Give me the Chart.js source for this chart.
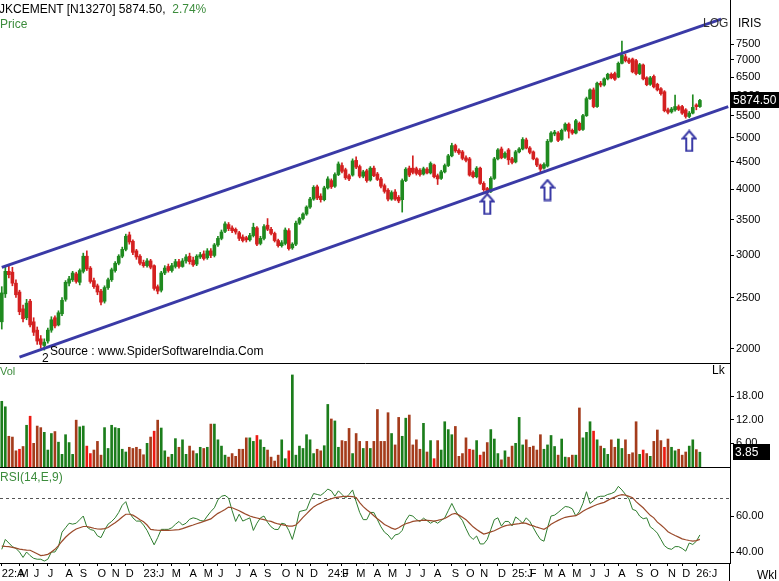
<!DOCTYPE html>
<html><head><meta charset="utf-8">
<script src="https://cdn.jsdelivr.net/npm/chart.js@4.4.1/dist/chart.umd.min.js"></script>
<style>
html,body{margin:0;padding:0;background:#fff}
body{width:779px;height:581px;overflow:hidden;position:relative;font-family:"Liberation Sans",Arial,sans-serif}
.pane{position:absolute;left:0;width:779px}
.t{position:absolute;white-space:nowrap;font-size:12px;line-height:12px;color:#000}
.g{color:#3c8c3c}
</style></head><body>
<div class="pane" style="top:0;height:364px"><canvas id="cp"></canvas></div>
<div class="pane" style="top:364px;height:104px"><canvas id="cv"></canvas></div>
<div class="pane" style="top:468px;height:113px"><canvas id="cr"></canvas></div>
<div class="t" style="left:-1px;top:3px">JKCEMENT [N13270] 5874.50,&nbsp; <span class="g">2.74%</span></div>
<div class="t g" style="left:0;top:18px">Price</div>
<div class="t" style="left:703px;top:17px;color:#333">LOG</div>
<div class="t" style="left:738px;top:17px">IRIS</div>
<div class="t" style="left:50px;top:345px">Source : www.SpiderSoftwareIndia.Com</div>
<div class="t" style="left:42px;top:352px">2</div>
<div class="t g" style="left:0;top:365px;font-size:11px">Vol</div>
<div class="t" style="left:712px;top:364px">Lk</div>
<div class="t g" style="left:0;top:471px">RSI(14,E,9)</div>
<div class="t" style="left:757px;top:569px">Wkl</div>
<script>
// ---------------- DATA (weekly, from 1 Apr 2022) ----------------
const opens=[2250,2540,2800,2790,2660,2560,2380,2290,2460,2250,2170,2090,2030,2070,2170,2290,2220,2330,2480,2660,
2700,2770,2670,2800,2990,2840,2690,2630,2570,2460,2610,2700,2810,2900,2990,3080,3280,3190,3060,2990,
2910,2870,2930,2870,2620,2580,2780,2860,2810,2860,2920,2860,2930,2990,2940,2890,2980,3020,2970,3060,
3000,3140,3230,3330,3430,3380,3360,3310,3250,3240,3210,3270,3380,3160,3230,3420,3360,3300,3200,3130,
3160,3340,3100,3150,3450,3520,3590,3700,3830,4040,3880,3820,4020,4150,4050,4260,4430,4350,4240,4250,
4530,4410,4230,4330,4160,4380,4270,4180,4060,3980,3830,3950,3860,3820,4150,4380,4380,4370,4340,4270,
4360,4290,4440,4240,4190,4310,4430,4620,4830,4730,4700,4580,4560,4300,4220,4380,4100,4010,3960,4190,
4560,4760,4590,4740,4560,4500,4700,4760,4950,4780,4700,4560,4440,4380,4420,4920,5080,5100,4960,5170,
5300,5160,5100,5320,5180,5500,5920,6150,5720,6330,6280,6450,6580,6600,6500,6900,7100,7000,7030,6980,
6600,6850,6480,6300,6520,6300,6180,6100,5640,5590,5640,5720,5720,5640,5480,5560,5760,5720];
const highs=[2620,2850,2870,2850,2700,2580,2420,2480,2480,2290,2200,2120,2090,2190,2300,2310,2360,2500,2690,2740,
2800,2790,2830,3030,3060,2860,2720,2650,2590,2630,2720,2840,2920,3010,3110,3290,3320,3210,3080,3010,
2940,2960,2950,2880,2640,2800,2870,2890,2900,2950,2950,2960,3010,3030,2980,3010,3040,3060,3090,3090,
3160,3260,3350,3470,3460,3410,3380,3330,3280,3260,3300,3450,3400,3260,3430,3520,3390,3320,3220,3200,
3380,3370,3170,3480,3540,3610,3720,3860,4060,4070,3920,4050,4220,4180,4290,4500,4480,4380,4270,4560,
4600,4440,4340,4360,4410,4420,4300,4210,4090,4010,3970,3990,3890,4180,4390,4420,4620,4400,4370,4400,
4390,4500,4460,4270,4340,4460,4650,4880,4860,4760,4730,4620,4590,4330,4410,4400,4130,4030,4220,4590,
4770,4800,4700,4770,4590,4730,4790,5000,4990,4810,4720,4580,4460,4480,4960,5130,5160,5130,5190,5330,
5330,5190,5410,5350,5530,5960,6180,6200,6360,6380,6480,6610,6620,6640,6940,7600,7180,7060,7060,7020,
6900,6880,6510,6520,6560,6330,6210,6130,5680,5700,6010,5760,5750,5670,5600,6020,5790,5900];
const lows=[2180,2500,2720,2630,2500,2320,2250,2270,2200,2120,2040,2010,1990,2050,2150,2190,2210,2310,2460,2630,
2680,2660,2640,2780,2810,2660,2600,2530,2420,2440,2590,2680,2790,2880,2970,3060,3150,3010,2950,2880,
2850,2850,2830,2580,2540,2560,2760,2790,2790,2840,2840,2850,2900,2890,2860,2870,2960,2940,2950,2970,
2980,3120,3210,3310,3340,3310,3290,3200,3180,3180,3190,3250,3130,3140,3210,3340,3280,3180,3110,3110,
3140,3070,3080,3130,3430,3500,3570,3680,3810,3820,3780,3800,4000,4010,4030,4240,4290,4170,4150,4230,
4370,4200,4200,4120,4140,4220,4150,4020,3930,3800,3810,3810,3770,3620,4130,4220,4270,4250,4230,4250,
4270,4270,4200,4080,4170,4290,4410,4600,4690,4650,4540,4500,4230,4200,4200,4080,3960,3880,3940,4170,
4540,4560,4570,4450,4460,4480,4680,4740,4760,4660,4540,4410,4300,4360,4400,4900,5040,4910,4940,5140,
4990,5070,5080,5150,5160,5480,5900,5690,5700,6230,6250,6420,6450,6410,6480,6880,6940,6890,6620,6560,
6570,6420,6260,6270,6200,6120,6010,5590,5540,5560,5610,5620,5530,5440,5450,5540,5640,5700];
const closes=[2550,2800,2760,2660,2530,2350,2280,2440,2220,2150,2070,2040,2060,2170,2270,2210,2340,2470,2670,2710,
2780,2680,2810,2990,2830,2680,2620,2560,2450,2610,2700,2820,2900,2990,3080,3260,3180,3040,2980,2900,
2870,2930,2850,2600,2570,2780,2840,2810,2870,2920,2860,2930,2980,2920,2880,2990,3010,2960,3060,3000,
3140,3230,3320,3440,3370,3340,3320,3230,3200,3210,3270,3390,3150,3230,3400,3360,3300,3200,3130,3170,
3350,3090,3150,3450,3520,3590,3700,3830,4030,3850,3820,4020,4180,4040,4260,4460,4320,4200,4180,4520,
4400,4230,4310,4150,4380,4240,4170,4050,3960,3830,3940,3830,3800,4150,4360,4250,4300,4280,4260,4370,
4290,4470,4220,4180,4310,4430,4620,4830,4720,4680,4570,4530,4250,4220,4380,4100,3990,3950,4190,4560,
4740,4580,4670,4540,4490,4700,4760,4960,4780,4690,4560,4440,4360,4450,4920,5100,5120,4940,5160,5300,
5140,5100,5380,5170,5500,5920,6150,5720,6330,6280,6450,6580,6480,6440,6900,7150,6980,6930,6650,6600,
6860,6450,6290,6480,6230,6150,6050,5620,5580,5660,5720,5650,5560,5480,5560,5700,5718,5874.5];
const volumes=[16.8,15.4,7.9,7.7,4.2,4.6,5.3,10.7,13,6.1,10.5,10.1,8.9,4.4,8.6,9.1,6.4,3.3,8.3,6.3,
3.3,12,10.3,10.5,5.4,3.5,4.4,6.6,3.1,10.1,4.8,10.7,10.1,9.9,4.6,3.9,5.1,4.8,5.1,4.6,
3.2,6.1,7.7,9.2,12,10,4.2,2.6,3.3,7.3,5.1,7,3.3,5.4,4.2,3.5,5.1,4.8,5.1,11,
11,7,5.4,3.1,2.6,3.5,2.8,4.6,4.6,7.5,7.5,6.6,8.1,7,5.1,4.4,2.6,1.6,3.1,7,
2.2,4.2,23.5,3.1,5.4,4.8,8.3,7,3.5,4.6,4.2,5.5,16,12.3,11.8,5.1,6.8,6.6,9.9,3.5,
8.6,6.6,4.8,6.6,4.8,6.6,14.7,6.6,6.6,13.9,8.6,5.7,12.7,7.9,12.5,13.3,5.7,7,4.6,11.2,
3.9,6.8,2.2,6.8,4.4,11.6,9.6,8.3,10.4,2.8,3.5,7.5,4.6,4.4,6.8,3.1,3.9,6.3,9.6,7.2,
3.5,1.9,4.2,2.6,5.4,6.1,12.7,5.7,7,5.1,5.4,4.4,8.3,4.6,5.7,8.1,5.3,3.1,7.2,2.6,
2.5,3.1,3.1,15.1,7.5,8.9,11.6,9.2,7,5.4,4.8,3.3,7,5.1,7.2,4.8,7,3.3,3.7,11.6,
3.3,4.4,3.5,2.8,6.6,9.5,6.8,5.1,7.2,5.1,4.2,4.6,3.1,3.9,5.4,7,4.5,3.85];
const rsi=[41.5,47,45,43,42,40,37,40,38,36.5,36,36,35,36,40,40,43,51,53.5,56,
55.5,56,58,60,54,52.5,52,49,48,52,55.5,57,59,62,66,68,62,59,57.2,57.2,
55,52,48,44,48,52.6,52.6,52.6,53.5,55.4,57,55,56,58.2,59,58.5,57.5,57.2,60,62.5,
64.6,69,71,71.5,70,63,57,61,57.2,58.1,59,52,56,59,60,56.5,54,52.6,52.5,56,
55.5,52,47,54,62.5,63,63.5,68.5,72.5,72,71.5,73,75,74,71,74,72,70,72,74.5,
68,62,58,58,62,62,58,54,51,49.5,47,49.5,50,52,57.5,60.5,60,58,57,58.8,
57.5,56,57.2,56,57.5,59,63,67,63,60,57.5,53,49,47,48.9,44.5,44.5,47,52.5,58,
59,54.4,57,57,54.5,59.5,58,56,59,57,53.5,50,47,46,53.5,60,60.5,62,63.7,65.3,
65,64,60,62.5,67,73.5,67,68.5,70.5,71,71,72,72.5,73.5,76.5,74.5,72,69.5,63.7,63,
60,58.5,59,54,52.5,50.5,47,43.5,42,41.5,43,43,42,40.5,45,44.2,46,49.5];
const rsiSignal=[43.3,43.1,43,42.6,42.2,41.6,41.3,41.1,41,40,39,38,38.3,38.7,40,41.5,43.5,46,48.2,50,
51.5,52.8,53.5,54.2,54.2,53.7,53.2,52.8,52.7,53,53.6,55,56.3,57.8,59.5,61,61,60.5,59.3,58,
56.8,55,52.6,52.3,52.1,52,52,52,52.1,52.3,52.5,53,53.7,54.4,55,55.7,56.3,57,57.7,58.4,
60,61.5,62.5,63.6,65,64.6,63.8,62.9,61.9,60.9,60,59.4,58.9,58.4,58,57.4,57,56.2,55.6,55.2,
54.8,54.4,54.4,55,57,59.3,61.2,63.2,65.1,66.3,67.2,68.2,69,69.6,70.2,70.5,70.8,71,70.9,70.8,
70.3,67.5,65.2,63.5,62,60.2,58.5,57,55.3,54.3,53.3,52.6,53.5,54.7,55.7,56.3,57,57.3,57.5,57.7,
57.6,57.4,57.2,57.6,58.1,58.6,59.8,61,61.5,60.5,59.3,58,56,54,52.5,51.2,50,50.5,51.2,51.8,
52.8,53.8,54.5,55,55.2,55.5,55.8,56.2,55.9,55.1,54.5,53.8,53.2,52.6,53.8,55.4,56.6,57.6,58.5,59.3,
59.7,60,60.2,61.3,62.6,63.8,64.7,65.6,66.4,67,67.6,68.7,69.7,70.5,71.4,71.9,71.6,70.9,70.2,68,
66.3,64.6,62.5,60.4,59,56.6,55,53.3,51.3,50.2,49.2,48.3,47.3,46.8,46.4,46.1,46.3,47];
const monthLabels=["22:A","M","J","J","A","S","O","N","D",
"23:J","","M","A","M","J","J","A","S","O","N","D",
"24:J","F","M","A","M","J","J","A","S","O","N","D",
"25:J","F","M","A","M","J","J","A","S","O","N","D",
"26:J"];
const priceTicks=[2000,2500,3000,3500,4000,4500,5000,5500,6000,6500,7000,7500];
const volTicks=[6,12,18];
const rsiTicks=[40,60];
const rsiLevel=70;
// channel lines: [week index, price]
const upperChannel=[[0,2849],[203,8354]];
const lowerChannel=[[5,1930],[205,5719]];
// support arrows: [week index, price]
const supportArrows=[[137,3750],[154,3984],[194,4927]];
const lastPriceText="5874.50";
const lastVolText="3.85";
const EXTRA_SLOTS=8;

// ---------------- BUILD ----------------
Chart.defaults.font.family='"Liberation Sans", Arial, sans-serif';
Chart.defaults.animation=false;
const N=closes.length, TOTAL=N+EXTRA_SLOTS;
const start=Date.UTC(2022,3,1);
const cats=[];
for(let i=0;i<TOTAL;i++){cats.push(new Date(start+i*7*864e5).toISOString().slice(0,10));}
const tickText=new Array(TOTAL).fill(''), isMonth=new Array(TOTAL).fill(false);
{let m=0,pm=-1;for(let i=0;i<N;i++){const mo=new Date(cats[i]).getUTCMonth();if(mo!==pm){tickText[i]=monthLabels[m++]||'';isMonth[i]=true;pm=mo;}}}

const GREEN='#1f8a1f', RED='#d42020';
const VG='#1b7d1b', VR='#ec1a12', VB='#a43c1c';
const cColors=closes.map((c,i)=>c>=opens[i]?GREEN:RED);
const vColors=volumes.map((v,i)=>closes[i]>=opens[i]?VG:(i>0&&closes[i]<closes[i-1]*0.95?VR:VB));
const wicks=lows.map((l,i)=>[l,highs[i]]);
const bodies=opens.map((o,i)=>[Math.min(o,closes[i]),Math.max(o,closes[i])]);
const CH='#3a3aa6';

const arrowImg=(()=>{const c=document.createElement('canvas');c.width=16;c.height=23;const x=c.getContext('2d');
x.beginPath();x.moveTo(8,1.5);x.lineTo(14.5,9);x.lineTo(11,9);x.lineTo(11,21.5);x.lineTo(5,21.5);x.lineTo(5,9);x.lineTo(1.5,9);x.closePath();
x.fillStyle='#fff';x.fill();x.lineWidth=2;x.strokeStyle=CH;x.stroke();return c;})();

const lastBox={id:'lastBox',afterDraw(chart,args,o){if(!o||!o.text)return;const{ctx,chartArea}=chart;const y=chart.scales.y.getPixelForValue(o.value);
ctx.save();ctx.fillStyle='#000';ctx.fillRect(chartArea.right+o.dx,Math.round(y-8),o.w,16);ctx.fillStyle='#fff';ctx.font='12px "Liberation Sans", Arial';ctx.textBaseline='middle';ctx.textAlign='left';ctx.fillText(o.text,chartArea.right+o.dx+2,y+0.5);ctx.restore();}};
const axisExtend={id:'axisExtend',afterDraw(chart){const{ctx,chartArea}=chart;ctx.save();ctx.strokeStyle='#000';ctx.lineWidth=1;ctx.beginPath();ctx.moveTo(Math.round(chartArea.right)-0.5,chartArea.bottom);ctx.lineTo(Math.round(chartArea.right)-0.5,chart.height);ctx.stroke();ctx.restore();}};

const xHidden={type:'category',offset:true,grid:{display:false,drawTicks:false},ticks:{display:false},border:{display:true,color:'#000',width:1},afterFit:s=>{s.height=1;s.paddingLeft=0;s.paddingRight=0;}};
const yRight=(extra)=>Object.assign({position:'right',afterFit:s=>{s.width=49;s.paddingTop=0;s.paddingBottom=0;},
  grid:{drawOnChartArea:false,drawTicks:true,tickLength:4,color:'#000'},
  border:{display:true,color:'#000',width:1},
  ticks:{color:'#000',padding:2,font:{size:11}}},extra);
const base={responsive:true,maintainAspectRatio:false,animation:false,layout:{padding:0,autoPadding:false},
  plugins:{legend:{display:false},tooltip:{enabled:false}}};

new Chart(document.getElementById('cp'),{type:'bar',
 data:{labels:cats,datasets:[
  {type:'bar',data:wicks,backgroundColor:cColors,barThickness:1,grouped:false,order:4},
  {type:'bar',data:bodies,backgroundColor:cColors,barThickness:3,grouped:false,minBarLength:1,order:3},
  {type:'line',data:upperChannel.map(p=>({x:cats[p[0]],y:p[1]})),borderColor:CH,borderWidth:3,pointRadius:0,order:2},
  {type:'line',data:lowerChannel.map(p=>({x:cats[p[0]],y:p[1]})),borderColor:CH,borderWidth:3,pointRadius:0,order:2},
  {type:'line',data:supportArrows.map(p=>({x:cats[p[0]],y:p[1]})),showLine:false,pointStyle:arrowImg,pointRadius:10,order:1}
 ]},
 options:Object.assign({},base,{plugins:Object.assign({},base.plugins,{lastBox:{value:closes[N-1],text:lastPriceText,w:48,dx:1}}),
  scales:{x:xHidden,
   y:yRight({type:'logarithmic',min:1882,max:9079,afterBuildTicks:s=>{s.ticks=priceTicks.map(v=>({value:v}));},
     ticks:{color:'#000',padding:2,font:{size:11},callback:v=>String(v)}})}}),
 plugins:[lastBox]});

new Chart(document.getElementById('cv'),{type:'bar',
 data:{labels:cats,datasets:[{data:volumes,backgroundColor:vColors,categoryPercentage:1,barPercentage:0.75}]},
 options:Object.assign({},base,{plugins:Object.assign({},base.plugins,{lastBox:{value:volumes[N-1],text:lastVolText,w:37,dx:3}}),
  scales:{x:xHidden,
   y:yRight({type:'linear',min:0,max:26.2,afterBuildTicks:s=>{s.ticks=volTicks.map(v=>({value:v}));},
     ticks:{color:'#000',padding:2,font:{size:11},callback:v=>Number(v).toFixed(2)}})}}),
 plugins:[lastBox]});

new Chart(document.getElementById('cr'),{type:'line',
 data:{labels:cats,datasets:[
  {data:rsi,borderColor:'#2e7d2e',borderWidth:1,pointRadius:0,tension:0,order:2},
  {data:rsiSignal,borderColor:'#9a4a2a',borderWidth:1.2,pointRadius:0,tension:0,order:1}
 ]},
 options:Object.assign({},base,{
  scales:{
   x:{type:'category',offset:true,afterFit:s=>{s.height=18;s.paddingLeft=0;s.paddingRight=0;},
     grid:{display:true,drawOnChartArea:false,drawTicks:true,tickLength:3,offset:false,color:c=>isMonth[c.index]?'#000':'rgba(0,0,0,0)'},
     border:{display:true,color:'#000',width:1},
     ticks:{autoSkip:false,maxRotation:0,minRotation:0,align:'start',padding:1,color:'#000',font:{size:11},callback:(v,i)=>tickText[i]}},
   y:yRight({type:'linear',min:33.9,max:86.7,
     afterBuildTicks:s=>{s.ticks=rsiTicks.concat([rsiLevel]).map(v=>({value:v}));},
     grid:{drawOnChartArea:true,drawTicks:true,tickLength:4,
       color:c=>c.tick&&c.tick.value===rsiLevel?'#555':'rgba(0,0,0,0)',
       tickColor:c=>c.tick&&c.tick.value===rsiLevel?'rgba(0,0,0,0)':'#000'},
     border:{display:true,color:'#000',width:1,dash:[3,3]},
     ticks:{color:'#000',padding:2,font:{size:11},callback:v=>v===rsiLevel?'':Number(v).toFixed(2)}})}}),
 plugins:[axisExtend]});
</script>
</body></html>
